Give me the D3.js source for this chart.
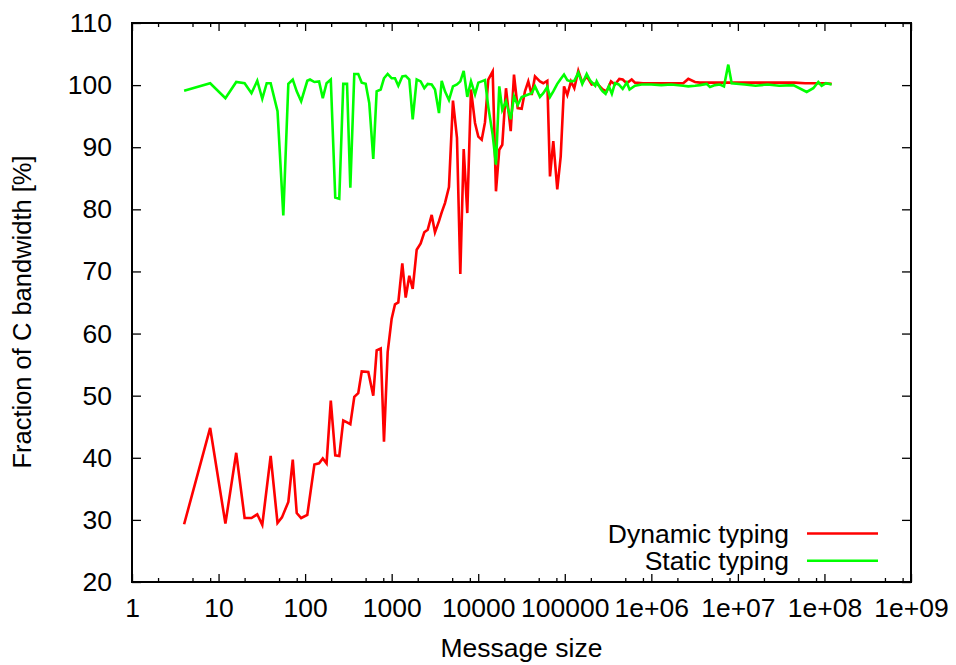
<!DOCTYPE html>
<html>
<head>
<meta charset="utf-8">
<script src="https://cdn.jsdelivr.net/npm/d3@7"></script>
<style>
  body { margin: 0; background: #fff; }
  text { font-family: "Liberation Sans", Arial, sans-serif; fill: #000; }
</style>
</head>
<body>
<script>
// message size (bytes) -> fraction of C bandwidth (%)
const dynamicTyping = [
  [4, 29.3], [8, 44.8], [12, 29.4], [16, 40.8], [20, 30.3], [24, 30.3], [28, 30.9], [32, 29.2],
  [40, 40.3], [48, 29.5], [54, 30.4], [64, 32.9], [72, 39.7], [80, 31.1], [90, 30.3], [106, 30.8],
  [128, 38.9], [145, 39.1], [160, 39.9], [177, 39.1], [198, 49.2], [223, 40.4], [248, 40.3],
  [276, 46.0], [305, 45.7], [333, 45.4], [370, 49.8], [411, 50.4], [451, 53.9], [537, 53.8],
  [613, 50.0], [671, 57.3], [747, 57.6], [815, 42.6], [899, 57.0], [1000, 62.4], [1092, 64.7],
  [1193, 65.0], [1327, 71.3], [1452, 65.8], [1599, 69.3], [1750, 67.2], [1946, 73.5], [2163, 74.5],
  [2382, 76.3], [2608, 76.7], [2900, 79.1], [3165, 76.3], [3521, 78.1], [3784, 79.5], [4130, 81.0],
  [4592, 83.6], [5107, 97.5], [5684, 91.5], [6209, 69.6], [6795, 89.7], [7475, 79.4], [8248, 99.3],
  [9183, 93.9], [10020, 91.7], [10970, 91.2], [11970, 94.0], [13070, 100.9], [14690, 102.2],
  [16030, 82.9], [17510, 89.6], [18960, 90.4], [20930, 99.5], [23730, 92.6], [25900, 101.7],
  [28570, 96.3], [31770, 96.2], [34680, 99.0], [37860, 100.6], [41460, 98.4], [45260, 101.4],
  [51670, 100.6], [56430, 100.3], [62810, 100.7], [67480, 85.3], [73660, 91.0], [81900, 83.2],
  [89700, 88.5], [98000, 99.8], [106900, 98.4], [118000, 100.6], [128900, 99.5], [143300, 102.3],
  [159300, 100.4], [179100, 101.4], [204500, 100.1], [233600, 100.3], [274000, 99.3], [304900, 99.0],
  [342000, 100.6], [380200, 100.1], [426600, 101.0], [466700, 100.9], [518800, 100.3], [592900, 100.9],
  [647100, 100.4], [800000, 100.3], [1000000, 100.3], [1300000, 100.3], [1700000, 100.3],
  [2339000, 100.3], [2673000, 101.0], [3192000, 100.5], [3648000, 100.4], [5000000, 100.4],
  [7000000, 100.4], [10000000, 100.4], [15000000, 100.4], [20000000, 100.4], [30000000, 100.4],
  [45000000, 100.4], [60000000, 100.3], [80000000, 100.3], [100000000, 100.3], [121100000, 100.2]
];

const staticTyping = [
  [4, 99.1], [8, 100.3], [12, 97.9], [16, 100.5], [20, 100.3], [24, 98.7], [28, 100.7], [32, 97.8],
  [36, 100.3], [40, 100.3], [48, 95.8], [56, 79.0], [64, 100.2], [72, 100.9], [80, 99.0], [90, 97.4],
  [106, 100.7], [114, 100.9], [128, 100.5], [145, 100.6], [160, 97.9], [177, 100.3], [198, 100.9],
  [223, 81.9], [248, 81.7], [276, 100.2], [305, 100.2], [333, 83.5], [370, 101.8], [411, 101.8],
  [451, 100.4], [501, 100.2], [551, 97.1], [613, 88.1], [671, 99.0], [747, 99.3], [815, 101.1],
  [899, 101.8], [1000, 101.1], [1092, 101.1], [1193, 99.9], [1327, 101.4], [1452, 101.5],
  [1599, 100.9], [1750, 94.5], [1946, 100.9], [2163, 100.6], [2382, 99.5], [2608, 100.2],
  [2900, 100.1], [3165, 99.3], [3521, 95.5], [3784, 100.7], [4130, 99.0], [4592, 97.6], [5107, 99.8],
  [5684, 100.1], [6209, 100.6], [6795, 102.3], [7475, 98.1], [8248, 100.6], [9183, 98.5],
  [10020, 100.4], [10970, 100.6], [11970, 100.8], [13070, 96.5], [14690, 92.0], [16030, 87.2],
  [17510, 99.8], [18960, 96.0], [20930, 97.4], [23730, 94.5], [25900, 98.2], [28570, 96.8],
  [31770, 98.1], [34680, 98.3], [37860, 98.5], [41460, 98.7], [45260, 99.8], [51670, 98.1],
  [56430, 98.7], [62810, 99.7], [67480, 98.1], [73660, 99.0], [81900, 100.2], [89700, 101.0],
  [98000, 101.7], [106900, 100.8], [118000, 100.6], [128900, 100.7], [143300, 102.0], [159300, 100.2],
  [179100, 101.8], [197000, 100.7], [225000, 99.9], [233600, 100.6], [260000, 99.4], [274000, 99.0],
  [296000, 98.6], [323000, 99.8], [350000, 98.6], [380200, 100.3], [420000, 100.1], [467000, 99.4],
  [520000, 100.4], [560000, 99.3], [647100, 99.9], [773000, 100.1], [1000000, 100.1], [1300000, 100.0],
  [1700000, 100.1], [2339000, 99.9], [2673000, 99.8], [3200000, 99.9], [3648000, 100.0],
  [4357000, 100.2], [4760000, 99.7], [5450000, 100.0], [6200000, 100.1], [6909000, 99.8],
  [7744000, 103.3], [8476000, 100.3], [12000000, 100.1], [16000000, 99.9], [22000000, 100.1],
  [30000000, 99.9], [43650000, 100.0], [62370000, 98.9], [74300000, 99.5], [84900000, 100.5],
  [92900000, 99.9], [104200000, 100.3], [121100000, 100.1]
];

const xTicks = [1, 10, 100, 1000, 10000, 100000, 1e6, 1e7, 1e8, 1e9];
const xTickLabels = ["1", "10", "100", "1000", "10000", "100000", "1e+06", "1e+07", "1e+08", "1e+09"];
const yTicks = [20, 30, 40, 50, 60, 70, 80, 90, 100, 110];
const seriesNames = ["Dynamic typing", "Static typing"];
const seriesColors = ["#ff0000", "#00ff00"];

function main() {
    const W = 956, H = 665;
    const left = 132, right = 911, top = 23, bottom = 582;
    const fs = 26.5;

    const svg = d3.select("body").append("svg")
        .attr("width", W)
        .attr("height", H);

    const x = d3.scaleLog().domain([1, 1e9]).range([left, right]);
    const y = d3.scaleLinear().domain([20, 110]).range([bottom, top]);

    // minor ticks at 2, 5, 8 of every decade
    const minor = [];
    for (let k = 0; k < 9; k++) {
        for (const m of [2, 5, 8]) minor.push(m * Math.pow(10, k));
    }

    const fmt = d => xTickLabels[xTicks.indexOf(d)];

    // bottom axis with labels
    svg.append("g")
        .attr("transform", "translate(0," + bottom + ")")
        .call(d3.axisBottom(x).tickValues(xTicks).tickFormat(fmt).tickSize(-8).tickSizeOuter(0).tickPadding(16));
    svg.append("g")
        .attr("transform", "translate(0," + bottom + ")")
        .call(d3.axisBottom(x).tickValues(minor).tickFormat("").tickSize(-4).tickSizeOuter(0));
    // top mirrored ticks
    svg.append("g")
        .attr("transform", "translate(0," + top + ")")
        .call(d3.axisTop(x).tickValues(xTicks).tickFormat("").tickSize(-8).tickSizeOuter(0));
    svg.append("g")
        .attr("transform", "translate(0," + top + ")")
        .call(d3.axisTop(x).tickValues(minor).tickFormat("").tickSize(-4).tickSizeOuter(0));

    svg.append("g")
        .attr("transform", "translate(" + left + ",0)")
        .call(d3.axisLeft(y).tickValues(yTicks).tickSize(-9).tickSizeOuter(0).tickPadding(20));
    svg.append("g")
        .attr("transform", "translate(" + right + ",0)")
        .call(d3.axisRight(y).tickValues(yTicks).tickFormat("").tickSize(-9).tickSizeOuter(0));

    svg.selectAll(".domain").remove();
    svg.selectAll(".tick line").attr("stroke", "#000").attr("stroke-width", 1.3);
    svg.selectAll(".tick text")
        .attr("font-family", "Liberation Sans, Arial, sans-serif")
        .attr("font-size", fs)
        .attr("fill", "#000");

    // frame
    svg.append("rect")
        .attr("x", left).attr("y", top)
        .attr("width", right - left).attr("height", bottom - top)
        .attr("fill", "none").attr("stroke", "#000").attr("stroke-width", 2);

    // axis titles
    svg.append("text")
        .attr("x", (left + right) / 2)
        .attr("y", 657)
        .attr("text-anchor", "middle")
        .attr("font-size", fs)
        .text("Message size");

    svg.append("text")
        .attr("transform", "translate(31,312) rotate(-90)")
        .attr("text-anchor", "middle")
        .attr("font-size", 25.5)
        .text("Fraction of C bandwidth [%]");

    // lines
    const line = d3.line()
        .x(d => x(d[0]))
        .y(d => y(d[1]));

    const all = [dynamicTyping, staticTyping];
    svg.selectAll(".series")
        .data(all)
        .join("path")
        .attr("class", "series")
        .attr("fill", "none")
        .attr("stroke", (d, i) => seriesColors[i])
        .attr("stroke-width", 2.6)
        .attr("stroke-linejoin", "miter")
        .attr("d", line);

    // legend
    const legend = svg.append("g");
    seriesNames.forEach((name, i) => {
        const ly = 533.5 + i * 27.2;
        legend.append("text")
            .attr("x", 789)
            .attr("y", ly + 9.5)
            .attr("text-anchor", "end")
            .attr("font-size", fs)
            .text(name);
        legend.append("line")
            .attr("x1", 807).attr("x2", 878)
            .attr("y1", ly).attr("y2", ly)
            .attr("stroke", seriesColors[i])
            .attr("stroke-width", 2.6);
    });
}
main();
</script>
</body>
</html>
